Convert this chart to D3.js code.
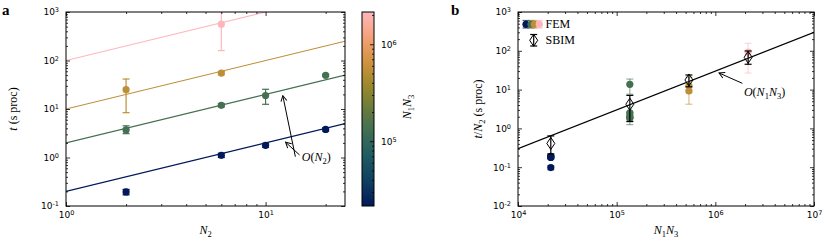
<!DOCTYPE html>
<html lang="en">
<head>
<meta charset="utf-8">
<title>FEM / SBIM timing</title>
<script src="https://cdn.jsdelivr.net/npm/d3@7"></script>
<style>
  body { margin: 0; background: #fff; }
  svg { display: block; }
  .tick text { font-family: "DejaVu Sans", sans-serif; font-size: 9px; fill: #000; }
  .tick line { stroke-width: 0.8; }
  .lab { font-family: "Liberation Serif", serif; font-size: 12px; fill: #000; }
</style>
</head>
<body>
<svg width="830" height="246"></svg>
<script>
// ---- data ----
const n1n3 = [2.15e4, 1.36e5, 5.4e5, 2.15e6];   // one per colour
const fitA = [0.2, 2, 10, 100];                  // t = c * N2 guide lines

// panel a: t vs N2
const n2Navy = [2, 6, 10, 20];
const tNavy = [0.195, 1.11, 1.78, 3.8];
const tNavyLo = [0.17, 1.0, 1.62, 3.5];
const tNavyHi = [0.22, 1.22, 1.95, 4.1];

const n2Green = [2, 6, 10, 20];
const tGreen = [3.7, 11.9, 19, 49.5];
const tGreenLo = [3.1, 11.0, 12.5, 47];
const tGreenHi = [4.5, 12.9, 25.5, 52];

const n2Gold = [2, 6];
const tGold = [25, 55];
const tGoldLo = [8.4, 51];
const tGoldHi = [41.5, 59];

const n2Pink = [6];
const tPink = [560];
const tPinkLo = [160];
const tPinkHi = [1400];

// panel b: t/N2 vs N1N3
const bNavy = [0.098, 0.185, 0.178, 0.19];
const bNavyLo = [0.086, 0.168, 0.162, 0.175];
const bNavyHi = [0.11, 0.203, 0.195, 0.205];
const bGreen = [13.7, 1.85, 1.98, 1.9, 2.5];
const bGreenLo = [7.6, 1.55, 1.83, 1.25, 2.35];
const bGreenHi = [18.7, 2.25, 2.15, 2.55, 2.65];
const bGold = [12.5, 9.2];
const bGoldLo = [4.2, 8.5];
const bGoldHi = [20.7, 9.8];
const bPink = [93];
const bPinkLo = [26.7];
const bPinkHi = [156];

const sbim = [0.41, 4.2, 17.7, 68];
const sbimLo = [0.22, 1.5, 11.8, 45];
const sbimHi = [0.64, 7.1, 23.8, 99];
const fitB = 3e-5;                               // t/N2 = c * N1N3

const batlow = ["#011959", "#103F60", "#1C5A62", "#3C6D56", "#687B3E",
                "#9D892B", "#D29343", "#F8A17B", "#FDB7BC"];

// ---- setup ----
const svg = d3.select("svg");
const color = d3.scaleSequentialLog(d3.piecewise(d3.interpolateRgb, batlow))
  .domain(d3.extent(n1n3));

const defs = svg.append("defs");
defs.append("marker").attr("id", "arr")
  .attr("viewBox", "-7 -4 8 8").attr("refX", 0).attr("refY", 0)
  .attr("markerWidth", 8).attr("markerHeight", 8)
  .attr("markerUnits", "userSpaceOnUse").attr("orient", "auto")
  .append("path").attr("d", "M-5.5,-3 L0,0 L-5.5,3")
  .attr("fill", "none").attr("stroke", "#000").attr("stroke-width", 1);

function supLabels(sel) {
  sel.selectAll(".tick text").text(null).each(function (d) {
    const e = Math.round(Math.log10(d));
    const t = d3.select(this);
    t.append("tspan").text("10");
    t.append("tspan").attr("dy", "-0.45em").attr("font-size", "6.5px").text(e < 0 ? "-" + (-e) : e);
  });
}

function isMajor(v) { const l = Math.log10(v); return Math.abs(l - Math.round(l)) < 1e-9; }

function frame(g, x, y, w, h) {
  const xMaj = x.ticks().filter(isMajor), xMin = x.ticks().filter(v => !isMajor(v));
  const yMaj = y.ticks().filter(isMajor), yMin = y.ticks().filter(v => !isMajor(v));
  const axes = [
    [d3.axisBottom, x, `translate(0,${h})`, xMaj, xMin, true],
    [d3.axisTop, x, null, xMaj, xMin, false],
    [d3.axisLeft, y, null, yMaj, yMin, true],
    [d3.axisRight, y, `translate(${w},0)`, yMaj, yMin, false]
  ];
  axes.forEach(([ax, s, tr, maj, min, lab]) => {
    const a = g.append("g").attr("transform", tr);
    a.call(ax(s).tickValues(maj).tickSizeInner(-4).tickSizeOuter(0).tickPadding(ax === d3.axisLeft ? 7 : 6)
      .tickFormat(() => ""));
    a.select(".domain").remove();
    if (lab) supLabels(a); else a.selectAll(".tick text").remove();
    const b = g.append("g").attr("transform", tr);
    b.call(ax(s).tickValues(min).tickSizeInner(-2).tickSizeOuter(0).tickFormat(() => ""));
    b.select(".domain").remove();
  });
  g.append("rect").attr("width", w).attr("height", h)
    .attr("fill", "none").attr("stroke", "#000").attr("stroke-width", 1);
}

function errBars(g, pts, x, y, col, op) {
  const e = g.append("g").attr("stroke", col).attr("stroke-width", 1.2).attr("stroke-opacity", op);
  pts.forEach(p => {
    const cx = x(p.x);
    e.append("line").attr("x1", cx).attr("x2", cx).attr("y1", y(p.lo)).attr("y2", y(p.hi));
    [p.lo, p.hi].forEach(v => e.append("line")
      .attr("x1", cx - 3.5).attr("x2", cx + 3.5).attr("y1", y(v)).attr("y2", y(v)));
  });
}

function dots(g, pts, x, y, col) {
  g.selectAll(null).data(pts).join("circle")
    .attr("cx", p => x(p.x)).attr("cy", p => y(p.y)).attr("r", 3.6).attr("fill", col);
}

// parts: [text, kind] with kind "i" italic, "sub" subscript
function mathLabel(g, x, y, parts, rotate, anchor) {
  const t = g.append("text").attr("class", "lab").attr("text-anchor", anchor || "middle")
    .attr("transform", `translate(${x},${y})` + (rotate ? " rotate(-90)" : ""));
  let off = 0;
  parts.forEach(([s, kind]) => {
    const ts = t.append("tspan").text(s);
    if (kind === "i") ts.attr("font-style", "italic");
    const want = kind === "sub" ? 3 : 0;
    if (kind === "sub") ts.attr("font-size", "8.5px");
    if (want !== off) { ts.attr("dy", want - off); off = want; }
  });
  return t;
}

// ---- panel a ----
const A = { l: 66, t: 12, w: 279, h: 194 };
const gA = svg.append("g").attr("transform", `translate(${A.l},${A.t})`);
const xA = d3.scaleLog().domain([1, 25]).range([0, A.w]);
const yA = d3.scaleLog().domain([0.1, 1000]).range([A.h, 0]);
defs.append("clipPath").attr("id", "clipA").append("rect").attr("width", A.w).attr("height", A.h);
const dA = gA.append("g").attr("clip-path", "url(#clipA)");

const seriesA = [
  [n2Navy, tNavy, tNavyLo, tNavyHi],
  [n2Green, tGreen, tGreenLo, tGreenHi],
  [n2Gold, tGold, tGoldLo, tGoldHi],
  [n2Pink, tPink, tPinkLo, tPinkHi]
];
seriesA.forEach(([xs, ts, lo, hi], k) => {
  const col = color(n1n3[k]);
  dA.append("path").datum(xA.domain())
    .attr("d", d3.line().x(v => xA(v)).y(v => yA(fitA[k] * v)))
    .attr("fill", "none").attr("stroke", col).attr("stroke-width", 1.1);
  const pts = xs.map((v, i) => ({ x: v, y: ts[i], lo: lo[i], hi: hi[i] }));
  errBars(dA, pts, xA, yA, col, 1);
  dots(dA, pts, xA, yA, col);
});
frame(gA, xA, yA, A.w, A.h);

// annotation O(N2)
[[12.2, 18.8, 14.1, 1.04], [12.6, 2.06, 14.8, 1.13]].forEach(([x1, y1, x0, y0]) => {
  gA.append("line").attr("x1", xA(x0)).attr("y1", yA(y0)).attr("x2", xA(x1)).attr("y2", yA(y1))
    .attr("stroke", "#000").attr("stroke-width", 1).attr("marker-end", "url(#arr)");
});
mathLabel(gA, xA(15.2), yA(0.84), [["O", "i"], ["("], ["N", "i"], ["2", "sub"], [")"]], false, "start");

mathLabel(svg, A.l + A.w / 2, 234, [["N", "i"], ["2", "sub"]]);
mathLabel(svg, 17, A.t + A.h / 2, [["t", "i"], [" (s proc)"]], true);
svg.append("text").attr("x", 2).attr("y", 15).attr("font-family", "Liberation Serif, serif")
  .attr("font-weight", "bold").attr("font-size", "15px").text("a");

// ---- colorbar ----
const C = { l: 362, t: 12, w: 12, h: 194 };
const gC = svg.append("g").attr("transform", `translate(${C.l},${C.t})`);
const yC = d3.scaleLog().domain(color.domain()).range([C.h, 0]);
const grad = defs.append("linearGradient").attr("id", "cbar")
  .attr("x1", 0).attr("x2", 0).attr("y1", 1).attr("y2", 0);
d3.range(0, 1.0001, 0.05).forEach(f => {
  grad.append("stop").attr("offset", f).attr("stop-color", color(yC.invert(C.h * (1 - f))));
});
gC.append("rect").attr("width", C.w).attr("height", C.h).attr("fill", "url(#cbar)");
const cMaj = yC.ticks().filter(isMajor), cMin = yC.ticks().filter(v => !isMajor(v));
const ca = gC.append("g").attr("transform", `translate(${C.w},0)`)
  .call(d3.axisRight(yC).tickValues(cMaj).tickSizeInner(-4).tickSizeOuter(0).tickPadding(7).tickFormat(() => ""));
ca.select(".domain").remove();
supLabels(ca);
const cb = gC.append("g").attr("transform", `translate(${C.w},0)`)
  .call(d3.axisRight(yC).tickValues(cMin).tickSizeInner(-2).tickSizeOuter(0).tickFormat(() => ""));
cb.select(".domain").remove();
gC.append("rect").attr("width", C.w).attr("height", C.h).attr("fill", "none")
  .attr("stroke", "#000").attr("stroke-width", 1);
mathLabel(svg, 411, 107, [["N", "i"], ["1", "sub"], ["N", "i"], ["3", "sub"]], true);

// ---- panel b ----
const B = { l: 518, t: 12, w: 296, h: 194 };
const gB = svg.append("g").attr("transform", `translate(${B.l},${B.t})`);
const xB = d3.scaleLog().domain([1e4, 1e7]).range([0, B.w]);
const yB = d3.scaleLog().domain([0.01, 1000]).range([B.h, 0]);
defs.append("clipPath").attr("id", "clipB").append("rect").attr("width", B.w).attr("height", B.h);
const dB = gB.append("g").attr("clip-path", "url(#clipB)");

dB.append("path").datum(xB.domain())
  .attr("d", d3.line().x(v => xB(v)).y(v => yB(fitB * v)))
  .attr("fill", "none").attr("stroke", "#000").attr("stroke-width", 1.1);

const seriesB = [[bNavy, bNavyLo, bNavyHi], [bGreen, bGreenLo, bGreenHi], [bGold, bGoldLo, bGoldHi], [bPink, bPinkLo, bPinkHi]];
seriesB.forEach(([ys, lo, hi], k) => {
  const col = color(n1n3[k]);
  const pts = ys.map((v, i) => ({ x: n1n3[k], y: v, lo: lo[i], hi: hi[i] }));
  errBars(dB, pts, xB, yB, col, 0.55);
  dots(dB, pts, xB, yB, col);
});

const diamond = "M0,-6 L4,0 L0,6 L-4,0 Z";
const sPts = sbim.map((v, i) => ({ x: n1n3[i], y: v, lo: sbimLo[i], hi: sbimHi[i] }));
errBars(dB, sPts, xB, yB, "#000", 1);
dB.selectAll(null).data(sPts).join("path")
  .attr("transform", p => `translate(${xB(p.x)},${yB(p.y)})`).attr("d", diamond)
  .attr("fill", "none").attr("stroke", "#000").attr("stroke-width", 1);
frame(gB, xB, yB, B.w, B.h);

// annotation O(N1N3)
gB.append("line").attr("x1", xB(1.88e6)).attr("y1", yB(14.5)).attr("x2", xB(1.09e6)).attr("y2", yB(26.8))
  .attr("stroke", "#000").attr("stroke-width", 1).attr("marker-end", "url(#arr)");
mathLabel(gB, xB(1.95e6), yB(6.9), [["O", "i"], ["("], ["N", "i"], ["1", "sub"], ["N", "i"], ["3", "sub"], [")"]], false, "start");

// legend
const lg = gB.append("g");
const id = d3.scaleIdentity();
[8, 13, 16.3, 21.3].forEach((dx, k) => {
  const col = color(n1n3[k]);
  const p = [{ x: dx, y: 12.3, lo: 16, hi: 8.5 }];
  errBars(lg, p, id, id, col, 0.7);
  dots(lg, p, id, id, col);
});
errBars(lg, [{ x: 15.7, y: 28.3, lo: 34, hi: 22.5 }], id, id, "#000", 1);
lg.append("path").attr("transform", "translate(15.7,28.3)").attr("d", diamond)
  .attr("fill", "none").attr("stroke", "#000");
lg.append("text").attr("class", "lab").attr("font-size", "11px").attr("x", 27.5).attr("y", 16).text("FEM");
lg.append("text").attr("class", "lab").attr("font-size", "11px").attr("x", 27.5).attr("y", 32).text("SBIM");

mathLabel(svg, B.l + B.w / 2, 234, [["N", "i"], ["1", "sub"], ["N", "i"], ["3", "sub"]]);
mathLabel(svg, 482, B.t + B.h / 2, [["t", "i"], ["/"], ["N", "i"], ["2", "sub"], [" (s proc)"]], true);
svg.append("text").attr("x", 451).attr("y", 15).attr("font-family", "Liberation Serif, serif")
  .attr("font-weight", "bold").attr("font-size", "15px").text("b");
</script>
</body>
</html>
